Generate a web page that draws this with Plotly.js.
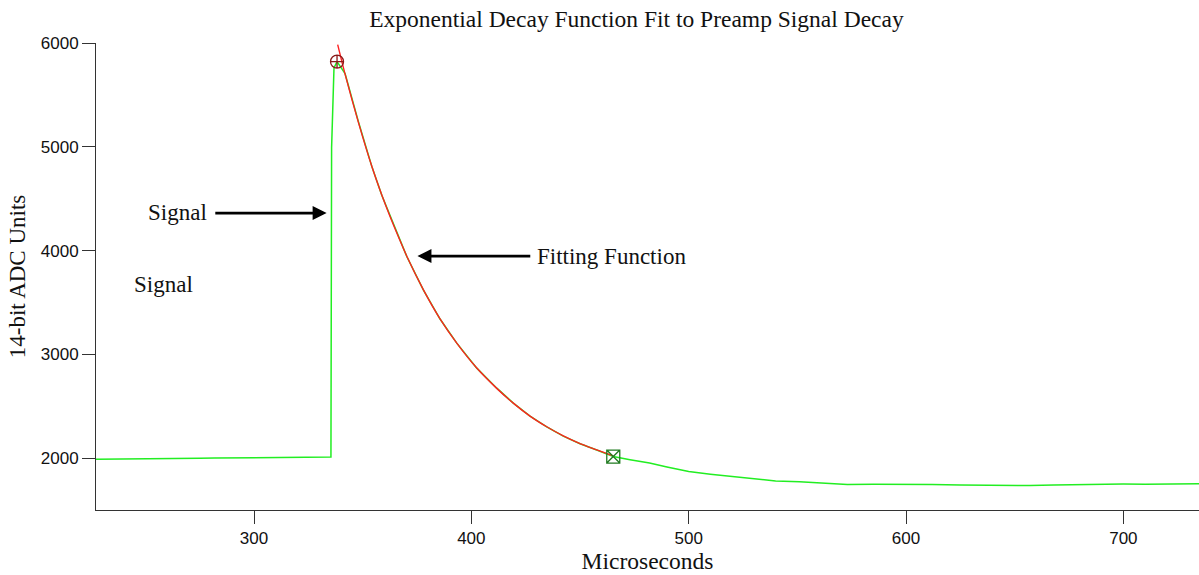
<!DOCTYPE html>
<html>
<head>
<meta charset="utf-8">
<script src="https://cdn.plot.ly/plotly-3.0.1.min.js"></script>
<style>html,body{margin:0;padding:0;background:#fff;}#chart{width:1199px;height:575px;}</style>
</head>
<body>
<div id="chart"></div>
<script>
// Signal trace (microseconds, 14-bit ADC units)
const signalX = [227.3, 235, 245, 255, 262, 270, 275, 282, 290, 300, 310, 318, 325, 330, 335.4,
  335.7, 336.2, 336.8, 338.2, 341.9, 348.0, 354.2, 358.8, 362.6, 366.4, 370.3, 377.9, 385.6,
  393.3, 402.5, 411.7, 419.3, 427.0, 434.7, 442.3, 450.0, 457.7, 465.3, 473, 482, 490, 500,
  510, 520.4, 530, 540, 551, 562, 573, 585, 600, 612, 625, 639, 650, 657, 668, 680, 690,
  700, 710, 720, 734.8];
const signalY = [1990, 1991, 1990, 1991, 1990, 1992, 1998, 2001, 2003, 2006, 2008, 2010, 2011, 2010, 2010,
  4990, 5450, 5760, 5820, 5705, 5245, 4811, 4532, 4332, 4140, 3943, 3622, 3340,
  3108, 2867, 2674, 2530, 2405, 2300, 2212, 2138, 2078, 2015, 1985, 1952, 1915, 1871,
  1845, 1823, 1800, 1780, 1772, 1760, 1745, 1748, 1750, 1745, 1742, 1737, 1736, 1735, 1740, 1745, 1748,
  1750, 1749, 1750, 1752];

// Fitting function (exponential decay)
const fitX = [338.5, 341.9, 348.0, 354.2, 358.8, 362.6, 366.4, 370.3, 377.9, 385.6,
  393.3, 402.5, 411.7, 419.3, 427.0, 434.7, 442.3, 450.0, 457.7, 465.3];
const fitY = [5984, 5700, 5238, 4812, 4535, 4328, 4135, 3945, 3624, 3342,
  3108, 2868, 2672, 2530, 2405, 2302, 2214, 2140, 2080, 2022];

// Fit start / end cursors
const peakX = [338.2];
const peakY = [5820];
const endX = [465.3];
const endY = [2015];

const xTicks = [300, 400, 500, 600, 700];
const yTicks = [2000, 3000, 4000, 5000, 6000];

const serif = 'Liberation Serif, Times New Roman, serif';
const sans = 'Liberation Sans, Arial, sans-serif';

const traces = [
  {x: signalX, y: signalY, type: 'scatter', mode: 'lines', name: 'Signal',
   line: {color: '#22ee22', width: 1.5}},
  {x: fitX, y: fitY, type: 'scatter', mode: 'lines', name: 'Fitting Function',
   line: {color: '#ff2020', width: 1.4, shape: 'spline', smoothing: 0.8}},
  {x: peakX, y: peakY, type: 'scatter', mode: 'markers', name: 'Fit start',
   marker: {symbol: 'circle-cross-open', size: 13, color: '#8b1a1a', line: {width: 1.3}}},
  {x: endX, y: endY, type: 'scatter', mode: 'markers', name: 'Fit end',
   marker: {symbol: 'square-x-open', size: 13, color: '#1f7a1f', line: {width: 1.3}}}
];

const layout = {
  width: 1199, height: 575,
  margin: {l: 96, r: 0, t: 43, b: 65, pad: 0},
  paper_bgcolor: '#fff', plot_bgcolor: '#fff',
  showlegend: false,
  title: {text: 'Exponential Decay Function Fit to Preamp Signal Decay',
    font: {family: serif, size: 23.5, color: '#111'},
    x: 0.49, xref: 'paper', xanchor: 'center', y: 0.967, yref: 'container', yanchor: 'middle'},
  xaxis: {
    range: [227.3, 734.8], tickvals: xTicks, ticktext: xTicks.map(String),
    ticks: 'outside', ticklen: 13, tickwidth: 1, tickcolor: '#333',
    showline: true, linecolor: '#333', linewidth: 1, mirror: false,
    showgrid: false, zeroline: false,
    tickfont: {family: sans, size: 17, color: '#111'},
    title: {text: 'Microseconds', font: {family: serif, size: 23.5, color: '#111'}, standoff: 2}
  },
  yaxis: {
    range: [1500, 6000], tickvals: yTicks, ticktext: yTicks.map(String),
    ticks: 'outside', ticklen: 13, tickwidth: 1, tickcolor: '#333',
    showline: true, linecolor: '#333', linewidth: 1, mirror: false,
    showgrid: false, zeroline: false,
    tickfont: {family: sans, size: 17, color: '#111'},
    title: {text: '14-bit ADC Units', font: {family: serif, size: 23, color: '#111'}, standoff: 8}
  },
  annotations: [
    {x: 333.4, y: 4361, ax: 281.5, ay: 4361, xref: 'x', yref: 'y', axref: 'x', ayref: 'y',
     text: '', showarrow: true, arrowhead: 2, arrowsize: 1, arrowwidth: 2.8, arrowcolor: '#000', standoff: 0},
    {x: 279.5, y: 4370, xref: 'x', yref: 'y', text: 'Signal', showarrow: false, xanchor: 'right', yanchor: 'middle',
     font: {family: serif, size: 23, color: '#111'}},
    {x: 258.2, y: 3670, xref: 'x', yref: 'y', text: 'Signal', showarrow: false, xanchor: 'center', yanchor: 'middle',
     font: {family: serif, size: 23, color: '#111'}},
    {x: 375.2, y: 3947, ax: 427.8, ay: 3947, xref: 'x', yref: 'y', axref: 'x', ayref: 'y',
     text: '', showarrow: true, arrowhead: 2, arrowsize: 1, arrowwidth: 2.8, arrowcolor: '#000', standoff: 0},
    {x: 429.5, y: 3940, xref: 'x', yref: 'y', text: 'Fitting Function', showarrow: false, xanchor: 'left', yanchor: 'middle',
     font: {family: serif, size: 23, color: '#111'}}
  ]
};

Plotly.newPlot('chart', traces, layout, {displayModeBar: false, staticPlot: true});
</script>
</body>
</html>
